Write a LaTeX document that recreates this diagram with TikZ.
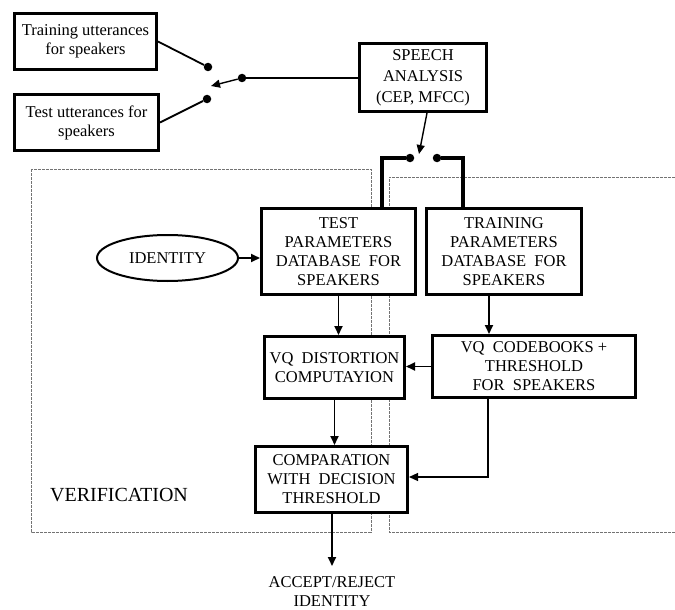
\documentclass[tikz,border=0pt]{standalone}
\usepackage{fontspec}
\setmainfont{Liberation Serif}
\usetikzlibrary{arrows.meta,shapes.geometric}
\begin{document}
\begin{tikzpicture}[x=1pt,y=-1pt,
 box/.style={draw,line width=3pt,fill=white,align=center,inner sep=0pt,font=\fontsize{16.5}{19}\selectfont},
 conn/.style={line width=1.8pt,-{Triangle[length=9pt,width=8pt]}},
 wire/.style={line width=1.8pt},
 thickwire/.style={line width=4.5pt},
 region/.style={draw=black!55,line width=1pt,dash pattern=on 3pt off 1pt},
 dot/.style={circle,fill,inner sep=0pt,minimum size=8.5pt},
 lbl/.style={align=center,inner sep=0pt,font=\fontsize{16.5}{19}\selectfont}
]
\useasboundingbox (0,0) rectangle (675,610);
% regions
\draw[region] (31,169) rectangle (371,532);
\draw[region] (675,177) -- (389,177) -- (389,532) -- (675,532);

% boxes
\node[box,minimum width=142pt,minimum height=56pt] (trainutt) at (85.5,41.5) {Training utterances\\for speakers};
\node[box,minimum width=144pt,minimum height=56pt] (testutt) at (86.5,122.5) {Test utterances for\\speakers};
\node[box,minimum width=127pt,minimum height=68pt,font=\fontsize{16.5}{21}\selectfont] (speech) at (423,77.5) {SPEECH\\ANALYSIS\\(CEP, MFCC)};
\node[box,minimum width=154pt,minimum height=86pt] (testpar) at (338.5,251.5) {TEST\\PARAMETERS\\DATABASE\ \ FOR\\SPEAKERS};
\node[box,minimum width=155pt,minimum height=86pt] (trainpar) at (504,251.5) {TRAINING\\PARAMETERS\\DATABASE\ \ FOR\\SPEAKERS};
\node[box,minimum width=140pt,minimum height=62pt] (vqd) at (334.5,367.5) {VQ\ \ DISTORTION\\COMPUTAYION};
\node[box,minimum width=203pt,minimum height=62pt] (cb) at (534,366.5) {VQ\ \ CODEBOOKS +\\THRESHOLD\\FOR\ \ SPEAKERS};
\node[box,minimum width=152pt,minimum height=66pt] (cmp) at (331.5,479.5) {COMPARATION\\WITH\ \ DECISION\\THRESHOLD};
\node[draw,ellipse,line width=2pt,minimum width=141pt,minimum height=46pt,inner sep=0pt,font=\fontsize{16.5}{19}\selectfont] (ident) at (167.5,258) {IDENTITY};
\node[lbl] (accept) at (332,592) {ACCEPT/REJECT\\IDENTITY};
\node[inner sep=0pt,font=\fontsize{20}{22}\selectfont] (verif) at (119,495) {VERIFICATION};

% input switch
\node[dot] (d1) at (208,67) {};
\node[dot] (d2) at (207,99) {};
\node[dot] (d3) at (242,78) {};
\coordinate (d3tip) at (211,86);
\draw[wire] (trainutt.east) -- (d1);
\draw[wire] (testutt.east) -- (d2);
\draw[conn,line width=1.4pt] (d3) -- (d3tip);
\draw[wire] (d3) -- (d3 -| speech.west);

% output switch
\node[dot] (d4) at (410,158) {};
\node[dot] (d5) at (437,158) {};
\coordinate (swtip) at (419,154);
\draw[conn,line width=1.4pt] ([xshift=4pt]speech.south) -- (swtip);
\coordinate (c4) at (382,158);
\coordinate (c5) at (463,158);
\draw[thickwire] (d4) -- (c4) -- (c4 |- testpar.north);
\draw[thickwire] (d5) -- (c5) -- (c5 |- trainpar.north);

% flow connectors
\draw[conn] (ident.east) -- (ident.east -| testpar.west);
\draw[conn] (testpar.south) -- (testpar.south |- vqd.north);
\draw[conn] ([xshift=-15pt]trainpar.south) -- ([xshift=-15pt]trainpar.south |- cb.north);
\draw[conn] (cb.west) -- (cb.west -| vqd.east);
\draw[conn] (vqd.south) -- (vqd.south |- cmp.north);
\coordinate (cbdown) at (488,477);
\draw[conn,line width=1.2pt] (cbdown |- cb.south) -- (cbdown) -- (cbdown -| cmp.east);
\coordinate (outend) at (332,566);
\draw[conn] (cmp.south -| outend) -- (outend);
\end{tikzpicture}
\end{document}
